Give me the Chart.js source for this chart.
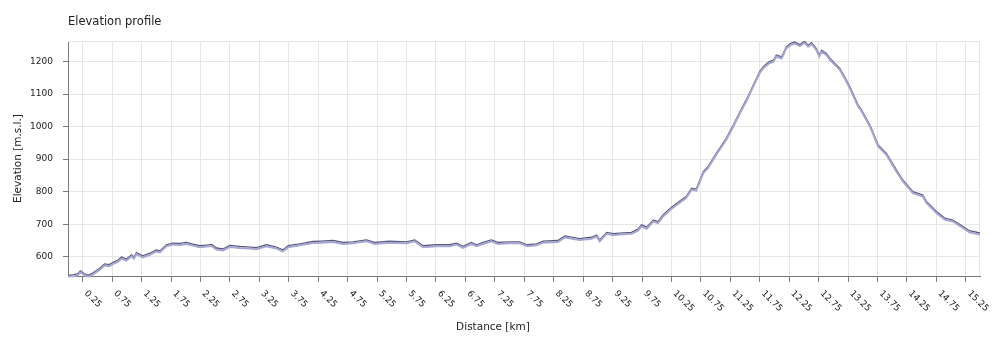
<!DOCTYPE html>
<html>
<head>
<meta charset="utf-8">
<title>Elevation profile</title>
<script src="https://cdn.jsdelivr.net/npm/chart.js@4.4.1/dist/chart.umd.min.js"></script>
<style>
  html, body { margin: 0; padding: 0; background: #fff; }
</style>
</head>
<body>
<canvas id="myChart" width="994" height="344"></canvas>
<script>
// distance along the route (km) and elevation (m)
const distances = [
  0.00, 0.10, 0.17, 0.21, 0.28, 0.34, 0.42, 0.54, 0.62, 0.70, 0.76, 0.85, 0.91, 0.99,
  1.08, 1.12, 1.16, 1.27, 1.39, 1.50, 1.56, 1.67, 1.78, 1.90, 2.01, 2.12, 2.24, 2.35,
  2.44, 2.52, 2.63, 2.75, 2.92, 3.09, 3.20, 3.37, 3.54, 3.65, 3.74, 3.94, 4.16, 4.30,
  4.50, 4.67, 4.84, 5.07, 5.21, 5.46, 5.75, 5.89, 6.03, 6.26, 6.48, 6.60, 6.71, 6.85,
  6.94, 7.05, 7.19, 7.30, 7.50, 7.67, 7.80, 7.96, 8.07, 8.32, 8.44, 8.69, 8.89, 8.98,
  9.03, 9.15, 9.26, 9.37, 9.57, 9.68, 9.74, 9.83, 9.94, 10.02, 10.11, 10.25, 10.42,
  10.50, 10.59, 10.67, 10.79, 10.87, 11.01, 11.18, 11.30, 11.41, 11.52, 11.64, 11.75,
  11.81, 11.90, 11.98, 12.03, 12.12, 12.20, 12.27, 12.34, 12.43, 12.51, 12.57, 12.63,
  12.71, 12.76, 12.80, 12.88, 12.94, 13.02, 13.11, 13.20, 13.28, 13.42, 13.48, 13.62,
  13.76, 13.90, 14.07, 14.18, 14.35, 14.52, 14.58, 14.75, 14.89, 15.03, 15.20, 15.31,
  15.49
];
const elevations = [
  543, 545, 548, 557, 548, 543, 550, 565, 578, 576, 582, 590, 599, 593,
  606, 599, 613, 603, 611, 621, 618, 637, 642, 641, 644, 639, 634, 636,
  638, 627, 624, 635, 632, 630, 628, 637, 630, 621, 634, 640, 647, 648,
  650, 644, 646, 652, 644, 648, 646, 652, 634, 637, 637, 642, 632, 644,
  637, 644, 652, 644, 646, 646, 637, 640, 648, 650, 664, 656, 660, 667,
  652, 675, 671, 673, 675, 685, 698, 691, 713, 708, 729, 752, 775,
  785, 811, 808, 862, 877, 918, 964, 1005, 1045, 1082, 1128, 1170,
  1184, 1198, 1204, 1220, 1214, 1245, 1255, 1260, 1252, 1262, 1250, 1258,
  1240, 1220, 1235, 1225, 1210, 1195, 1179, 1150, 1122, 1066, 1051, 1005,
  944, 918, 867, 836, 800, 790, 770, 739, 719, 713, 693, 680,
  673
];
const distanceTicks = [0.25, 0.75, 1.25, 1.75, 2.25, 2.75, 3.25, 3.75, 4.25, 4.75, 5.25,
  5.75, 6.25, 6.75, 7.25, 7.75, 8.25, 8.75, 9.25, 9.75, 10.25, 10.75, 11.25, 11.75,
  12.25, 12.75, 13.25, 13.75, 14.25, 14.75, 15.25];
const elevationTicks = [600, 700, 800, 900, 1000, 1100, 1200];

const gridColor = "#e6e6e6";
const axisColor = "#7a7a7a";
const textColor = "#222";
const points = distances.map((d, i) => ({ x: d, y: elevations[i] }));

const decorations = {
  id: "decorations",
  beforeDatasetsDraw(chart) {
    const { ctx, chartArea: a } = chart;
    ctx.save();
    ctx.strokeStyle = gridColor;
    ctx.lineWidth = 1;
    ctx.beginPath();
    ctx.moveTo(a.left, a.top + 0.5);
    ctx.lineTo(a.right, a.top + 0.5);
    ctx.moveTo(a.right - 0.5, a.top);
    ctx.lineTo(a.right - 0.5, a.bottom);
    ctx.stroke();
    ctx.restore();
  },
  beforeDatasetDraw(chart, args) {
    // the light band sits just under the dark line
    if (args.index === 0) {
      chart.ctx.save();
      chart.ctx.translate(0, 1.5);
    }
  },
  afterDatasetDraw(chart, args) {
    if (args.index === 0) chart.ctx.restore();
  },
  afterDraw(chart) {
    const { ctx, chartArea: a } = chart;
    const xs = chart.scales.x;
    ctx.save();
    ctx.fillStyle = textColor;
    ctx.font = "11.5px 'DejaVu Sans'";
    ctx.textAlign = "left";
    ctx.textBaseline = "middle";
    ctx.fillText("Elevation profile", a.left, 22);

    ctx.font = "9px 'DejaVu Sans'";
    distanceTicks.forEach((v) => {
      const px = xs.getPixelForValue(v);
      ctx.save();
      ctx.translate(px + 3, xs.top + 16);
      ctx.rotate(Math.PI / 4);
      ctx.fillText(v.toFixed(2), 0, 0);
      ctx.restore();
    });

    ctx.font = "10.5px 'DejaVu Sans'";
    ctx.textAlign = "center";
    ctx.fillText("Distance [km]", 493, 327);
    ctx.restore();
  },
};

const ctx = document.getElementById("myChart").getContext("2d");
const myChart = new Chart(ctx, {
  type: "line",
  data: {
    datasets: [
      {
        data: points,
        borderColor: "#a6a6d2",
        borderWidth: 2,
        pointRadius: 0,
        tension: 0,
        fill: false,
      },
      {
        data: points,
        borderColor: "#58587a",
        borderWidth: 1.3,
        pointRadius: 0,
        tension: 0,
        fill: false,
      },
    ],
  },
  options: {
    responsive: false,
    animation: false,
    devicePixelRatio: 1,
    layout: { padding: { left: 0, right: 14, top: 41, bottom: 0 } },
    plugins: {
      legend: { display: false },
      tooltip: { enabled: false },
      title: { display: false },
    },
    scales: {
      x: {
        type: "linear",
        min: 0,
        max: 15.49,
        afterBuildTicks: (scale) => {
          scale.ticks = distanceTicks.map((v) => ({ value: v }));
        },
        afterFit: (scale) => {
          scale.height = 68;
        },
        ticks: {
          color: "transparent",
          autoSkip: false,
          maxRotation: 45,
          minRotation: 45,
          font: { family: "DejaVu Sans", size: 9 },
        },
        grid: {
          color: gridColor,
          tickColor: axisColor,
          tickLength: 6,
        },
        border: { color: axisColor, width: 1 },
      },
      y: {
        min: 541,
        max: 1263,
        afterBuildTicks: (scale) => {
          scale.ticks = elevationTicks.map((v) => ({ value: v }));
        },
        afterFit: (scale) => {
          scale.width = 68;
        },
        ticks: {
          color: textColor,
          padding: 10,
          font: { family: "DejaVu Sans", size: 9 },
          callback: (value) => String(value),
        },
        grid: {
          color: gridColor,
          tickColor: axisColor,
          tickLength: 5,
        },
        border: { color: axisColor, width: 1 },
        title: {
          display: true,
          text: "Elevation [m.s.l.]",
          color: textColor,
          padding: { top: 12 },
          font: { family: "DejaVu Sans", size: 10.5 },
        },
      },
    },
  },
  plugins: [decorations],
});
</script>
</body>
</html>
